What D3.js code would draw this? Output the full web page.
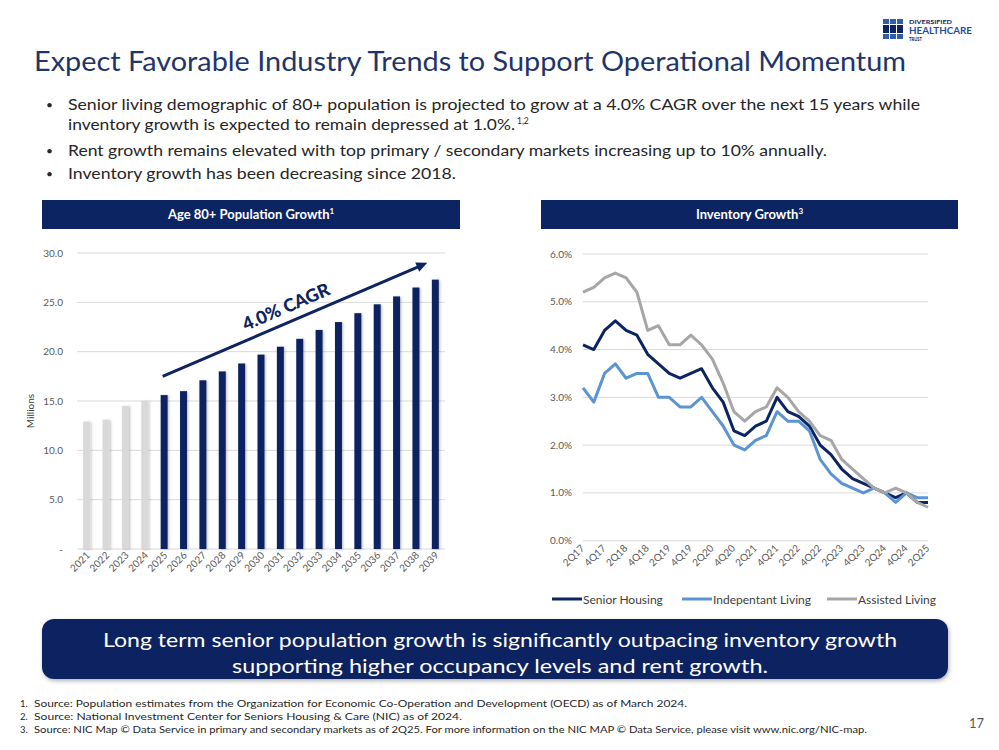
<!DOCTYPE html>
<html>
<head>
<meta charset="utf-8">
<script src="https://cdn.jsdelivr.net/npm/d3@7"></script>
<style>
body { margin: 0; background: #fff; }
svg { display: block; font-family: Lato, "Open Sans", sans-serif; }
</style>
</head>
<body>
<div id="chart"></div>
<script>
"use strict";

// Age 80+ population (millions), 2025 onward are projections
const years = ["2021","2022","2023","2024","2025","2026","2027","2028","2029","2030",
               "2031","2032","2033","2034","2035","2036","2037","2038","2039"];
const population = [12.9, 13.1, 14.5, 15.0, 15.6, 16.0, 17.1, 18.0, 18.8, 19.7,
                    20.5, 21.3, 22.2, 23.0, 23.9, 24.8, 25.6, 26.5, 27.3];
const firstProjected = "2025";
const popTicks = [0, 5, 10, 15, 20, 25, 30];

// Inventory growth by quarter
const quarters = ["2Q17","3Q17","4Q17","1Q18","2Q18","3Q18","4Q18","1Q19","2Q19","3Q19","4Q19",
                  "1Q20","2Q20","3Q20","4Q20","1Q21","2Q21","3Q21","4Q21","1Q22","2Q22","3Q22",
                  "4Q22","1Q23","2Q23","3Q23","4Q23","1Q24","2Q24","3Q24","4Q24","1Q25","2Q25"];
const seniorHousing = [4.1, 4.0, 4.4, 4.6, 4.4, 4.3, 3.9, 3.7, 3.5, 3.4, 3.5,
                       3.6, 3.2, 2.9, 2.3, 2.2, 2.4, 2.5, 3.0, 2.7, 2.6, 2.4,
                       2.0, 1.8, 1.5, 1.3, 1.2, 1.1, 1.0, 0.9, 1.0, 0.8, 0.8];
const independentLiving = [3.2, 2.9, 3.5, 3.7, 3.4, 3.5, 3.5, 3.0, 3.0, 2.8, 2.8,
                           3.0, 2.7, 2.4, 2.0, 1.9, 2.1, 2.2, 2.7, 2.5, 2.5, 2.3,
                           1.7, 1.4, 1.2, 1.1, 1.0, 1.1, 1.0, 0.8, 1.0, 0.9, 0.9];
const assistedLiving = [5.2, 5.3, 5.5, 5.6, 5.5, 5.2, 4.4, 4.5, 4.1, 4.1, 4.3,
                        4.1, 3.8, 3.3, 2.7, 2.5, 2.7, 2.8, 3.2, 3.0, 2.7, 2.5,
                        2.2, 2.1, 1.7, 1.5, 1.3, 1.1, 1.0, 1.1, 1.0, 0.8, 0.7];
const seriesNames = ["Senior Housing", "Indepentant Living", "Assisted Living"];
const growthTicks = [0, 1, 2, 3, 4, 5, 6];

const bullets = [
    "Senior living demographic of 80+ population is projected to grow at a 4.0% CAGR over the next 15 years while",
    "inventory growth is expected to remain depressed at 1.0%.",
    "Rent growth remains elevated with top primary / secondary markets increasing up to 10% annually.",
    "Inventory growth has been decreasing since 2018."
];
const footnotes = [
    "Source: Population estimates from the Organization for Economic Co-Operation and Development (OECD) as of March 2024.",
    "Source: National Investment Center for Seniors Housing & Care (NIC) as of  2024.",
    "Source: NIC Map © Data Service in primary and secondary markets as of 2Q25.  For more information on the NIC MAP © Data Service, please visit www.nic.org/NIC-map."
];

const navy = "#0c2461";
const lightBlue = "#5b93d3";
const gray = "#a6a6a6";
const seriesColors = [navy, lightBlue, gray];
const axisText = "#595959";

const W = 999, H = 750;
const svg = d3.select("#chart").append("svg")
    .attr("width", W)
    .attr("height", H)
    .attr("viewBox", [0, 0, W, H]);

const defs = svg.append("defs");
defs.append("filter").attr("id", "barShadow")
    .attr("x", "-50%").attr("width", "200%")
    .append("feDropShadow")
    .attr("dx", 1.2).attr("dy", 0.5).attr("stdDeviation", 0.8)
    .attr("flood-color", "#000").attr("flood-opacity", 0.25);
defs.append("filter").attr("id", "boxShadow")
    .attr("x", "-5%").attr("y", "-20%").attr("width", "110%").attr("height", "150%")
    .append("feDropShadow")
    .attr("dx", 1).attr("dy", 2).attr("stdDeviation", 2)
    .attr("flood-color", "#000").attr("flood-opacity", 0.3);

// ---- title & logo ----
svg.append("text")
    .attr("x", 34).attr("y", 71)
    .attr("font-size", 27)
    .attr("fill", "#1f3569")
    .attr("textLength", 872)
    .attr("lengthAdjust", "spacingAndGlyphs")
    .text("Expect Favorable Industry Trends to Support Operational Momentum");

const logo = svg.append("g").attr("transform", "translate(883,19)");
const logoRows = [[0, 5, "#2f5fa8"], [6, 8, navy], [15, 5, "#2f5fa8"]];
for (const [ry, rh, col] of logoRows) {
    for (let c = 0; c < 3; c++) {
        logo.append("rect")
            .attr("x", c * 7).attr("y", ry)
            .attr("width", 6).attr("height", rh)
            .attr("fill", col);
    }
}
logo.append("text").attr("x", 26).attr("y", 5).attr("font-size", 6)
    .attr("font-weight", 700).attr("fill", navy)
    .attr("textLength", 43).attr("lengthAdjust", "spacingAndGlyphs")
    .text("DIVERSIFIED");
logo.append("text").attr("x", 26).attr("y", 14.5).attr("font-size", 10)
    .attr("font-weight", 700).attr("fill", "#1d4f9c")
    .attr("textLength", 63).attr("lengthAdjust", "spacingAndGlyphs")
    .text("HEALTHCARE");
logo.append("text").attr("x", 26).attr("y", 22).attr("font-size", 5.5)
    .attr("font-weight", 700).attr("fill", navy)
    .attr("textLength", 13).attr("lengthAdjust", "spacingAndGlyphs")
    .text("TRUST");

// ---- bullets ----
const bulletY = [110, 130, 156, 179];
const bulletEnds = [920, 515, 827, 456];
const bulletG = svg.append("g").attr("font-size", 15).attr("fill", "#262626");
bullets.forEach((b, i) => {
    if (i !== 1) {
        bulletG.append("text").attr("x", 46).attr("y", bulletY[i] - 1)
            .attr("font-size", 12).text("•");
    }
    bulletG.append("text")
        .attr("x", 68).attr("y", bulletY[i])
        .attr("textLength", bulletEnds[i] - 68)
        .attr("lengthAdjust", "spacingAndGlyphs")
        .text(b);
});
bulletG.append("text").attr("x", 517).attr("y", bulletY[1] - 6)
    .attr("font-size", 8.5).text("1,2");

// ---- section headers ----
function header(x0, x1, label, sup) {
    svg.append("rect")
        .attr("x", x0).attr("y", 200)
        .attr("width", x1 - x0).attr("height", 29)
        .attr("fill", navy);
    const t = svg.append("text")
        .attr("x", (x0 + x1) / 2).attr("y", 219)
        .attr("text-anchor", "middle")
        .attr("font-size", 13).attr("font-weight", 700)
        .attr("fill", "#fff");
    t.append("tspan").text(label);
    t.append("tspan").attr("dy", -5).attr("font-size", 8).text(sup);
}
header(42, 460, "Age 80+ Population Growth", "1");
header(541, 958, "Inventory Growth", "3");

// ---- left chart: population bars ----
const xPop = d3.scaleBand(years, [77, 445]).paddingInner(0.64).paddingOuter(0.32);
const yPop = d3.scaleLinear([0, 30], [549, 253]);

const left = svg.append("g");
left.append("g")
    .selectAll("line")
    .data(popTicks)
    .join("line")
    .attr("x1", 77).attr("x2", 445)
    .attr("y1", d => yPop(d)).attr("y2", d => yPop(d))
    .attr("stroke", "#d9d9d9").attr("stroke-width", 1);

left.append("g")
    .attr("font-size", 10).attr("fill", axisText)
    .attr("text-anchor", "end")
    .selectAll("text")
    .data(popTicks)
    .join("text")
    .attr("x", 63)
    .attr("y", d => yPop(d) + 3.5)
    .text(d => d === 0 ? "-" : d3.format(".1f")(d));

left.append("g")
    .selectAll("rect")
    .data(years)
    .join("rect")
    .attr("x", d => xPop(d))
    .attr("width", xPop.bandwidth())
    .attr("y", (d, i) => yPop(population[i]))
    .attr("height", (d, i) => yPop(0) - yPop(population[i]))
    .attr("fill", d => d < firstProjected ? "#d9d9d9" : navy)
    .attr("filter", "url(#barShadow)");

left.append("g")
    .attr("font-size", 10).attr("fill", axisText)
    .selectAll("text")
    .data(years)
    .join("text")
    .attr("text-anchor", "end")
    .attr("transform", d => `translate(${xPop(d) + xPop.bandwidth() / 2 + 4},556) rotate(-45)`)
    .text(d => d);

left.append("text")
    .attr("transform", "translate(34,411) rotate(-90)")
    .attr("text-anchor", "middle")
    .attr("font-size", 10).attr("fill", "#404040")
    .text("Millions");

// CAGR arrow
const ax0 = xPop(firstProjected) + xPop.bandwidth() / 2 - 1.5, ay0 = yPop(17.5);
const ax1 = xPop("2039") + xPop.bandwidth() / 2 - 8, ay1 = yPop(29);
const ang = Math.atan2(ay1 - ay0, ax1 - ax0);
left.append("line")
    .attr("x1", ax0).attr("y1", ay0)
    .attr("x2", ax1 - 8 * Math.cos(ang)).attr("y2", ay1 - 8 * Math.sin(ang))
    .attr("stroke", navy).attr("stroke-width", 3);
left.append("path")
    .attr("transform", `translate(${ax1},${ay1}) rotate(${ang * 180 / Math.PI})`)
    .attr("d", "M0,0 L-11,-5 L-11,5 Z")
    .attr("fill", navy);
const tx = 292, ty = ay0 + (tx - ax0) * Math.tan(ang);
left.append("text")
    .attr("transform", `translate(${tx},${ty}) rotate(${ang * 180 / Math.PI})`)
    .attr("y", -9)
    .attr("text-anchor", "middle")
    .attr("font-size", 18).attr("font-weight", 900)
    .attr("fill", navy)
    .text("4.0% CAGR");

// ---- right chart: inventory growth lines ----
const xQ = d3.scalePoint(quarters, [583, 928]);
const yG = d3.scaleLinear([0, 6], [540.7, 254]);

const right = svg.append("g");
right.append("g")
    .selectAll("line")
    .data(growthTicks)
    .join("line")
    .attr("x1", 583).attr("x2", 928)
    .attr("y1", d => yG(d)).attr("y2", d => yG(d))
    .attr("stroke", "#d9d9d9").attr("stroke-width", 1);

right.append("g")
    .attr("font-size", 10).attr("fill", axisText)
    .attr("text-anchor", "end")
    .selectAll("text")
    .data(growthTicks)
    .join("text")
    .attr("x", 572)
    .attr("y", d => yG(d) + 3.5)
    .text(d => d3.format(".1%")(d / 100));

right.append("g")
    .attr("font-size", 10).attr("fill", axisText)
    .selectAll("text")
    .data(quarters.filter((q, i) => i % 2 === 0))
    .join("text")
    .attr("text-anchor", "end")
    .attr("transform", d => `translate(${xQ(d) + 2},549) rotate(-45)`)
    .text(d => d);

const series = [seniorHousing, independentLiving, assistedLiving];
const line = d3.line()
    .x((d, i) => xQ(quarters[i]))
    .y(d => yG(d));
right.append("g")
    .selectAll("path")
    .data(series)
    .join("path")
    .attr("fill", "none")
    .attr("stroke", (d, i) => seriesColors[i])
    .attr("stroke-width", 3)
    .attr("stroke-linejoin", "round")
    .attr("d", d => line(d));

// legend
const legendX = [552, 682, 827];
const legend = right.append("g").attr("font-size", 12).attr("fill", "#404040");
seriesNames.forEach((name, i) => {
    legend.append("line")
        .attr("x1", legendX[i]).attr("x2", legendX[i] + 30)
        .attr("y1", 599).attr("y2", 599)
        .attr("stroke", seriesColors[i]).attr("stroke-width", 3);
    legend.append("text")
        .attr("x", legendX[i] + 31).attr("y", 603.5)
        .text(name);
});

// ---- callout box ----
svg.append("rect")
    .attr("x", 42).attr("y", 619)
    .attr("width", 906).attr("height", 60)
    .attr("rx", 12)
    .attr("fill", navy)
    .attr("filter", "url(#boxShadow)");
const callout = svg.append("g")
    .attr("font-size", 19).attr("fill", "#fff")
    .attr("text-anchor", "middle");
callout.append("text").attr("x", 500).attr("y", 647)
    .attr("textLength", 794).attr("lengthAdjust", "spacingAndGlyphs")
    .text("Long term senior population growth is significantly outpacing inventory growth");
callout.append("text").attr("x", 500).attr("y", 673)
    .attr("textLength", 536).attr("lengthAdjust", "spacingAndGlyphs")
    .text("supporting higher occupancy levels and rent growth.");

// ---- footnotes ----
const footY = [707, 720, 733];
const footEnds = [687, 462, 867];
const foot = svg.append("g").attr("font-size", 9.5).attr("fill", "#262626");
footnotes.forEach((f, i) => {
    foot.append("text").attr("x", 20).attr("y", footY[i]).text(`${i + 1}.`);
    foot.append("text")
        .attr("x", 34).attr("y", footY[i])
        .attr("textLength", footEnds[i] - 34)
        .attr("lengthAdjust", "spacingAndGlyphs")
        .text(f);
});
svg.append("text")
    .attr("x", 984).attr("y", 728)
    .attr("text-anchor", "end")
    .attr("font-size", 13).attr("fill", "#595959")
    .text("17");
</script>
</body>
</html>
